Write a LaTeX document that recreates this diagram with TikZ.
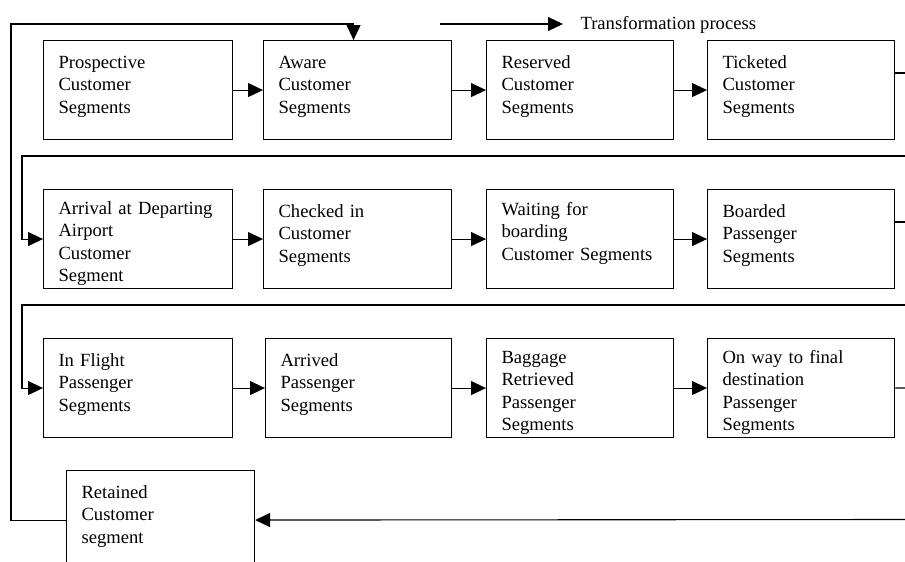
\documentclass[tikz,border=0pt]{standalone}
\usepackage{fontspec}
\setmainfont{Liberation Serif}
\usetikzlibrary{arrows.meta,calc}

\newcommand{\boxfont}{\fontsize{18.6}{22.3}\selectfont}

\tikzset{
  x=1pt, y=-1pt,
  every path/.style={line width=1.1pt},
  segbox/.style={draw, rectangle, anchor=north west, inner sep=0pt,
                 minimum height=99pt},
  segtext/.style={anchor=north west, inner sep=0pt, text width=180pt,
                  align=left, font=\boxfont},
  flow/.style={-{Triangle[length=15pt,width=14pt]}},
}

% place a box of given width at (left,top) with its text; #6 = first baseline offset
\newcommand{\segment}[6]{%
  \node[segbox, minimum width=#4pt] (#1) at (#2,#3) {};
  \node[segtext] (#1t) at ($(#1.north west)+(15,#6-15.61)$) {\strut #5};
}

\begin{document}
\begin{tikzpicture}
\useasboundingbox (0,0) rectangle (905,562);

% first row
\segment{b1}{43}{40}{189}{Prospective\\Customer\\Segments}{28}
\segment{b2}{263}{40}{188}{Aware\\Customer\\Segments}{28}
\segment{b3}{486}{40}{187}{Reserved\\Customer\\Segments}{28}
\segment{b4}{707}{40}{187}{Ticketed\\Customer\\Segments}{28}

% second row
\segment{b5}{43}{189}{189}{Arrival at Departing\\Airport\\Customer\\Segment}{25}
\segment{b6}{263}{189}{188}{Checked in\\Customer\\Segments}{28}
\segment{b7}{486}{189}{187}{Waiting for\\boarding\\Customer Segments}{26}
\segment{b8}{707}{189}{187}{Boarded\\Passenger\\Segments}{28}

% third row
\segment{b9}{43}{338}{189}{In Flight\\Passenger\\Segments}{28}
\segment{b10}{265}{338}{186}{Arrived\\Passenger\\Segments}{28}
\segment{b11}{486}{338}{187}{Baggage\\Retrieved\\Passenger\\Segments}{25}
\segment{b12}{707}{338}{187}{On way to final\\destination\\Passenger\\Segments}{25}

% retained segment, running past the lower edge
\segment{r}{66}{470}{188}{Retained\\Customer\\segment}{28}

% arrows within each row
\foreach \a/\b in {b1/b2,b2/b3,b3/b4,b5/b6,b6/b7,b7/b8,b9/b10,b10/b11,b11/b12}
  \draw[flow] (\a.east) -- (\b.west);

% row-to-row links
\coordinate (e1) at (905,73);
\coordinate (e2) at (905,222);
\coordinate (e3) at (905,388);
\coordinate (f1) at (905,156);
\coordinate (c1) at (22,156);
\coordinate (f2) at (905,305);
\coordinate (c2) at (22,305);
\coordinate (g1) at (905,519.5);
\coordinate (lx) at (11,24);

\draw (b4.east |- e1) -- (e1);
\draw (b8.east |- e2) -- (e2);
\draw (b12.east) -- (e3);
\draw[flow] (f1) -- (c1) |- (b5.west);
\draw[flow] (f2) -- (c2) |- (b9.west);
\draw[flow] (g1) -- (r.east);

% loop back from retained customers to awareness
\draw[flow] (r.west) -| (lx) -| ($(b2.north)+(-4,0)$);

% legend
\coordinate (la) at (440,24);
\coordinate (lb) at (563,24);
\draw[flow] (la) -- (lb);
\node[anchor=base west, inner sep=0pt, font=\boxfont] (leg) at (580,29) {Transformation process};
\end{tikzpicture}
\end{document}
